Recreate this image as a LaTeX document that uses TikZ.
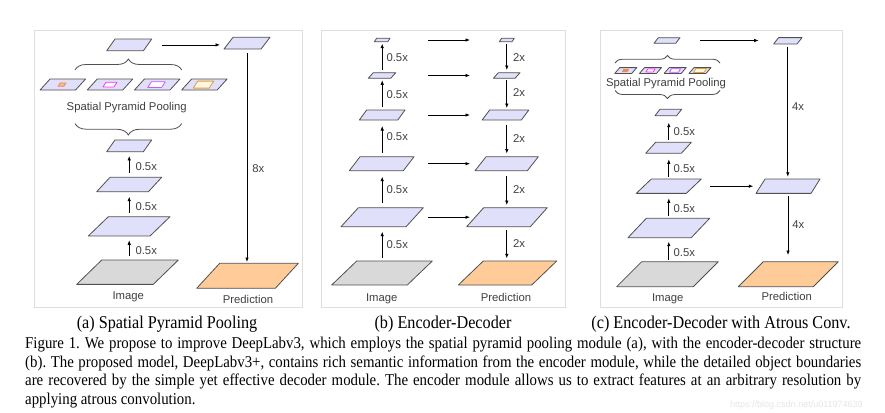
\documentclass[tikz,border=0pt]{standalone}
\usepackage{fontspec}
\setmainfont{Liberation Serif}
\setsansfont{Liberation Sans}
\newfontfamily\capfont{Liberation Serif}[FakeStretch=0.9]
\usetikzlibrary{arrows.meta,decorations.pathreplacing,calc}
\frenchspacing

\definecolor{pgfillc}{HTML}{E0E0FA}
\definecolor{imgc}{HTML}{D9D9D9}
\definecolor{predc}{HTML}{FFCC99}
\definecolor{edgec}{HTML}{505050}
\definecolor{labc}{HTML}{404040}
\definecolor{framec}{HTML}{DEDEDE}
\definecolor{sppone}{HTML}{F08A50}
\definecolor{spponef}{HTML}{F9B890}
\definecolor{spptwo}{HTML}{FF33FF}
\definecolor{sppthree}{HTML}{CC55FF}
\definecolor{sppfour}{HTML}{D9A040}
\definecolor{sppfourf}{HTML}{FFF6E0}
\definecolor{wmark}{HTML}{E6E6E6}

% name, cx, cy, total width, height, skew, fill, draw
\newcommand\pgram[8]{%
  \node[pbox, minimum width=#4pt, minimum height=#5pt] (#1) at (#2,#3) {};
  \filldraw[fill=#7, draw=#8, line width=0.8pt, line join=round]
    (#1.south west) -- ([xshift=-#6pt]#1.south east) -- (#1.north east)
    -- ([xshift=#6pt]#1.north west) -- cycle;}

\tikzset{
  pbox/.style={inner sep=0pt, outer sep=0pt, draw=none},
  arr/.style={-{Latex[length=4.5pt,width=3.5pt]}, line width=0.7pt, black},
  lab/.style={font=\sffamily\fontsize{11.3pt}{13pt}\selectfont, text=labc, inner sep=0pt},
  lbl/.style={lab, anchor=west},
  brc/.style={draw=edgec, line width=0.8pt, decorate},
  frame/.style={draw=framec, line width=1pt},
  subcap/.style={font=\capfont\fontsize{18pt}{19pt}\selectfont, inner sep=0pt, anchor=base},
  capline/.style={font=\capfont\fontsize{16.5pt}{19pt}\selectfont, inner sep=0pt, anchor=base west},
}

\begin{document}
\begin{tikzpicture}[x=1pt,y=-1pt]
\useasboundingbox (0,0) rectangle (885,412);
\fill[white] (0,0) rectangle (885,412);

% frames
\draw[frame] (34,31) rectangle (302,307);
\draw[frame] (321,31) rectangle (565,307);
\draw[frame] (600,31) rectangle (842,307);

%%%%%%%%%%%%%%%% (a)
\pgram{atop}{129.2}{44.9}{45}{11.7}{8.3}{pgfillc}{edgec}
\pgram{adec}{247}{43.2}{46}{11.7}{9}{pgfillc}{edgec}
\pgram{asa}{62.8}{84.5}{45.5}{11}{10}{pgfillc}{edgec}
\pgram{asb}{110}{84.5}{45.5}{11}{10}{pgfillc}{edgec}
\pgram{asc}{157.2}{84.5}{45.5}{11}{10}{pgfillc}{edgec}
\pgram{asd}{204.4}{84.5}{45.5}{11}{10}{pgfillc}{edgec}
\pgram{aia}{62}{84.6}{8}{3.4}{2.2}{spponef}{sppone}
\pgram{aib}{110}{84.6}{14}{4.6}{3}{white}{spptwo}
\pgram{aic}{156.5}{84.6}{17.5}{5.6}{3.6}{white}{sppthree}
\pgram{aid}{203.5}{84.6}{20.5}{7}{4.5}{sppfourf}{sppfour}
\pgram{afc}{129.2}{145.8}{45}{11.7}{8.3}{pgfillc}{edgec}
\pgram{afb}{129.2}{184.5}{65}{14.4}{13.3}{pgfillc}{edgec}
\pgram{afa}{129.2}{226.3}{81.7}{19.3}{20}{pgfillc}{edgec}
\pgram{aimg}{127.5}{272.2}{101.6}{24.3}{25}{imgc}{edgec}
\pgram{apred}{247.5}{275.8}{101.6}{25}{23}{predc}{edgec}

\draw[brc, decoration={brace, amplitude=11pt}] (75,70) -- (181.7,70);
\draw[brc, decoration={brace, amplitude=11.5pt}] (181.7,123.5) -- (75,123.5);
\node[lab, anchor=base] (asppl) at (126.7,110.7) {Spatial Pyramid Pooling};

\draw[arr, shorten <=4.5pt, shorten >=4.3pt] (afa.south |- aimg.north) -- (afa.south)
  node[lbl, midway, xshift=6pt, yshift=-2.5pt] (ala) {0.5x};
\draw[arr, shorten <=4pt, shorten >=5pt] (afb.south |- afa.north) -- (afb.south)
  node[lbl, midway, xshift=6pt, yshift=-2.5pt] (alb) {0.5x};
\draw[arr, shorten <=4.3pt, shorten >=4.3pt] (afc.south |- afb.north) -- (afc.south)
  node[lbl, midway, xshift=6pt, yshift=-2.5pt] (alc) {0.5x};
\draw[arr, shorten <=10pt, shorten >=4pt] (atop.east) -- (atop.east -| adec.west);
\draw[arr, shorten <=4pt, shorten >=1.3pt] (adec.south) -- (adec.south |- apred.north)
  node[lbl, midway, xshift=5pt, yshift=-12pt] (ald) {8x};
\node[lab, anchor=base] (aimgl) at (128.3,299) {Image};
\node[lab, anchor=base] (apredl) at (248,303) {Prediction};

%%%%%%%%%%%%%%%% (b)
\pgram{bimg}{382}{273}{100.6}{24}{25}{imgc}{edgec}
\pgram{bea}{382.2}{217.2}{82.3}{19}{17.3}{pgfillc}{edgec}
\pgram{beb}{381.7}{163.7}{64.7}{14}{10.7}{pgfillc}{edgec}
\pgram{bec}{382.2}{115}{45.7}{10}{7.3}{pgfillc}{edgec}
\pgram{bed}{382}{75.5}{27.4}{5.6}{5}{pgfillc}{edgec}
\pgram{bee}{382.2}{40}{15.7}{3.4}{2.3}{pgfillc}{edgec}
\pgram{bpred}{507.5}{273}{98.4}{24}{25}{predc}{edgec}
\pgram{bda}{507}{217.2}{80.6}{19}{17}{pgfillc}{edgec}
\pgram{bdb}{506.7}{163.7}{63.3}{14}{11}{pgfillc}{edgec}
\pgram{bdc}{505.5}{115}{46.7}{10}{7.5}{pgfillc}{edgec}
\pgram{bdd}{506.7}{75.5}{26.7}{5.6}{5}{pgfillc}{edgec}
\pgram{bde}{506.8}{40}{15}{3.4}{2.3}{pgfillc}{edgec}

\draw[arr, shorten <=3pt, shorten >=5pt] (bea.south |- bimg.north) -- (bea.south)
  node[lbl, midway, xshift=4pt, yshift=-1pt] (bla) {0.5x};
\draw[arr, shorten <=4.5pt, shorten >=6pt] (bea.north) -- (bea.north |- beb.south)
  node[lbl, midway, xshift=4pt] (blb) {0.5x};
\draw[arr, shorten <=4pt, shorten >=6pt] (bea.north |- beb.north) -- (bea.north |- bec.south)
  node[lbl, midway, xshift=4pt, yshift=1.5pt] (blc) {0.5x};
\draw[arr, shorten <=3.3pt, shorten >=2pt] (bea.north |- bec.north) -- (bea.north |- bed.south)
  node[lbl, midway, xshift=4pt] (bld) {0.5x};
\draw[arr, shorten <=2.7pt, shorten >=2pt] (bea.north |- bed.north) -- (bea.north |- bee.south)
  node[lbl, midway, xshift=4pt] (ble) {0.5x};

\draw[arr, shorten <=2.6pt, shorten >=2.7pt] (bde.south) -- (bde.south |- bdd.north)
  node[lbl, midway, xshift=6pt] (bdl1) {2x};
\draw[arr, shorten <=2pt, shorten >=2pt] (bde.south |- bdd.south) -- (bde.south |- bdc.north)
  node[lbl, midway, xshift=6pt, yshift=1.5pt] (bdl2) {2x};
\draw[arr, shorten <=4.5pt, shorten >=3.2pt] (bde.south |- bdc.south) -- (bde.south |- bdb.north)
  node[lbl, midway, xshift=6pt] (bdl3) {2x};
\draw[arr, shorten <=5.5pt, shorten >=2.7pt] (bde.south |- bdb.south) -- (bde.south |- bda.north)
  node[lbl, midway, xshift=6pt] (bdl4) {2x};
\draw[arr, shorten <=3.3pt, shorten >=2.7pt] (bde.south |- bda.south) -- (bde.south |- bpred.north)
  node[lbl, midway, xshift=6pt] (bdl5) {2x};

\coordinate (bhl) at (428.3,0);
\coordinate (bhr) at (470,0);
\draw[arr] (bhl |- bee) -- (bhr |- bee);
\draw[arr] (bhl |- bed) -- (bhr |- bed);
\draw[arr] (bhl |- bec) -- (bhr |- bec);
\draw[arr] (bhl |- beb) -- (bhr |- beb);
\draw[arr] (bhl |- bea) -- (bhr |- bea);
\node[lab, anchor=base] (bimgl) at (381.7,301.7) {Image};
\node[lab, anchor=base] (bpredl) at (506,301.7) {Prediction};

%%%%%%%%%%%%%%%% (c)
\pgram{ctop}{667}{40.5}{26}{5.6}{4.3}{pgfillc}{edgec}
\pgram{crtop}{787.8}{40.8}{28.4}{6.3}{5}{pgfillc}{edgec}
\pgram{csa}{625.8}{70.5}{22}{5.8}{5}{pgfillc}{edgec}
\pgram{csb}{650.5}{70.5}{22}{5.8}{5}{pgfillc}{edgec}
\pgram{csc}{675.2}{70.5}{22}{5.8}{5}{pgfillc}{edgec}
\pgram{csd}{700}{70.5}{22}{5.8}{5}{pgfillc}{edgec}
\pgram{cia}{625.5}{70.5}{6}{2.2}{1.2}{sppone}{sppone}
\pgram{cib}{650.5}{70.5}{9}{3}{1.8}{white}{spptwo}
\pgram{cic}{675}{70.5}{11}{3.4}{2}{white}{sppthree}
\pgram{cid}{700}{70.5}{13}{4}{2.5}{sppfourf}{sppfour}
\pgram{cfd}{668.3}{112.5}{26.7}{6.4}{5}{pgfillc}{edgec}
\pgram{cfc}{668.5}{147.8}{45.7}{11}{10}{pgfillc}{edgec}
\pgram{cfb}{668.8}{186.2}{65}{14.3}{15}{pgfillc}{edgec}
\pgram{cfa}{668.8}{228}{81.7}{19.4}{18.4}{pgfillc}{edgec}
\pgram{cimg}{667.5}{274.2}{101.6}{25}{25}{imgc}{edgec}
\pgram{cmid}{788}{186.2}{64}{14.3}{9}{pgfillc}{edgec}
\pgram{cpred}{788.3}{274.2}{100}{25}{25}{predc}{edgec}

\draw[brc, decoration={brace, amplitude=7.5pt}] (615,63) -- (720,63);
\draw[brc, decoration={brace, amplitude=8pt}] (720,90.5) -- (615,90.5);
\node[lab, anchor=base] (csppl) at (666,86.3) {Spatial Pyramid Pooling};

\draw[arr, shorten <=1.8pt, shorten >=4pt] (cfa.south |- cimg.north) -- (cfa.south)
  node[lbl, midway, xshift=4.5pt, yshift=-3pt] (cla) {0.5x};
\draw[arr, shorten <=2.6pt, shorten >=5pt] (cfa.north) -- (cfa.north |- cfb.south)
  node[lbl, midway, xshift=4.5pt, yshift=-2.5pt] (clb) {0.5x};
\draw[arr, shorten <=2.3pt, shorten >=6pt] (cfa.north |- cfb.north) -- (cfa.north |- cfc.south)
  node[lbl, midway, xshift=4.5pt, yshift=-2pt] (clc) {0.5x};
\draw[arr, shorten <=2.3pt, shorten >=7pt] (cfa.north |- cfc.north) -- (cfa.north |- cfd.south)
  node[lbl, midway, xshift=4.5pt, yshift=-3pt] (cld) {0.5x};
\draw[arr, shorten <=20pt, shorten >=15pt] (ctop.east) -- (ctop.east -| crtop.west);
\draw[arr, shorten <=8.5pt, shorten >=2.7pt] (cfb.east) -- (cfb.east -| cmid.west);
\draw[arr, shorten <=2.7pt, shorten >=2.3pt] (crtop.south) -- (crtop.south |- cmid.north)
  node[lbl, midway, xshift=4pt, yshift=4.8pt] (cle) {4x};
\draw[arr, shorten <=2.4pt, shorten >=6.7pt] (cmid.south) -- (cmid.south |- cpred.north)
  node[lbl, midway, xshift=4pt, yshift=3.2pt] (clf) {4x};
\node[lab, anchor=base] (cimgl) at (667.7,301.3) {Image};
\node[lab, anchor=base] (cpredl) at (786.7,300.7) {Prediction};

%%%%%%%%%%%%%%%% captions
\node[subcap] (capa) at (167,328.5) {(a) Spatial Pyramid Pooling};
\node[subcap] (capb) at (443,328.5) {(b) Encoder-Decoder};
\node[subcap] (capc) at (721,328.5) {(c) Encoder-Decoder with Atrous Conv.};

\node[capline] (cl1) at (25,348) {\makebox[836pt][s]{Figure 1. We propose to improve DeepLabv3, which employs the spatial pyramid pooling module (a), with the encoder-decoder structure}};
\node[capline] (cl2) at (25,367) {\makebox[836pt][s]{(b). The proposed model, DeepLabv3+, contains rich semantic information from the encoder module, while the detailed object boundaries}};
\node[capline] (cl3) at (25,385.5) {\makebox[836pt][s]{are recovered by the simple yet effective decoder module. The encoder module allows us to extract features at an arbitrary resolution by}};
\node[capline] (cl4) at (25,404) {applying atrous convolution.};

\node[font=\sffamily\fontsize{9pt}{10pt}\selectfont, text=wmark, inner sep=0pt, anchor=base west] (wm) at (730,407) {https://blog.csdn.net/u011974639};
\end{tikzpicture}
\end{document}
